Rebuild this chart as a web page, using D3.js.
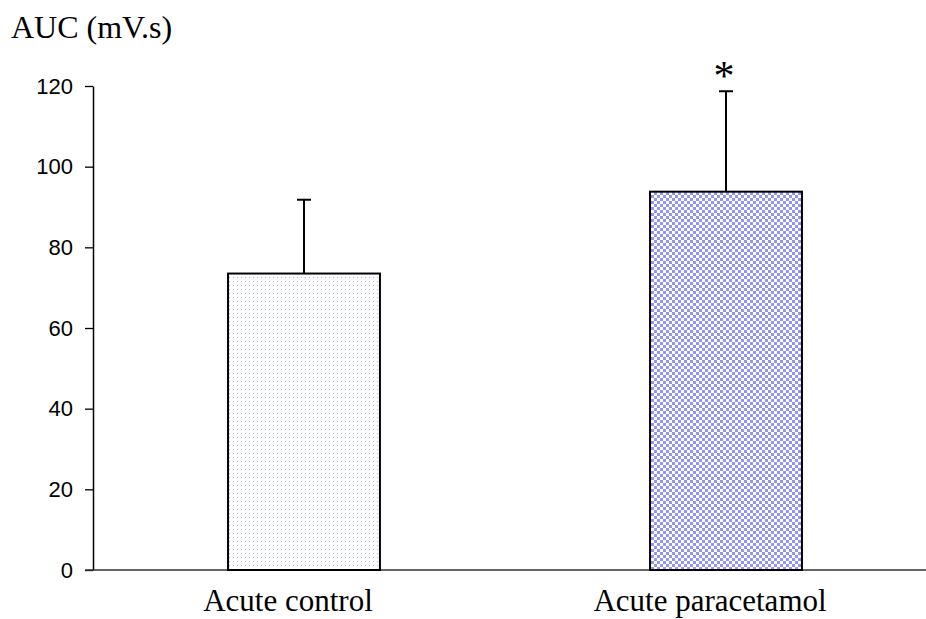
<!DOCTYPE html>
<html><head><meta charset="utf-8">
<script src="https://cdn.jsdelivr.net/npm/d3@7"></script>
<style>body{margin:0;background:#fff}svg{display:block}</style>
</head><body>
<script>
const categories = ["Acute control", "Acute paracetamol"];
const means = [73.5, 93.8];
const errors = [18.3, 24.9];
const significance = ["", "*"];
const yTicks = [0, 20, 40, 60, 80, 100, 120];
const yTitle = "AUC (mV.s)";

const W = 926, H = 619;
const svg = d3.select("body").append("svg").attr("width", W).attr("height", H);
const defs = svg.append("defs");

const pDots = defs.append("pattern").attr("id","dots").attr("patternUnits","userSpaceOnUse")
  .attr("width",4).attr("height",4);
pDots.append("rect").attr("width",4).attr("height",4).attr("fill","#fff");
pDots.append("rect").attr("x",1).attr("y",1).attr("width",1).attr("height",1).attr("fill","#b4b4fa");

const pChk = defs.append("pattern").attr("id","checker").attr("patternUnits","userSpaceOnUse")
  .attr("width",6).attr("height",6);
pChk.append("rect").attr("width",6).attr("height",6).attr("fill","#fff");
pChk.append("rect").attr("width",3).attr("height",3).attr("fill","#9494f6");
pChk.append("rect").attr("x",3).attr("y",3).attr("width",3).attr("height",3).attr("fill","#9494f6");
const fills = ["url(#dots)", "url(#checker)"];

const x0 = 93, yBottom = 570, yTop = 86;
const x = d3.scaleBand().domain(categories).range([x0, 937]).paddingInner(0.64).paddingOuter(0.32);
const y = d3.scaleLinear().domain([0, 120]).range([yBottom, yTop]);

// y axis
const yAxis = svg.append("g").attr("transform", `translate(${x0},0)`)
  .call(d3.axisLeft(y).tickValues(yTicks).tickSize(8).tickSizeOuter(0).tickPadding(12));
yAxis.select(".domain").attr("stroke","#000").attr("stroke-width",1.5);
yAxis.selectAll(".tick line").attr("stroke","#000").attr("stroke-width",1.3);
yAxis.selectAll(".tick text").attr("font-family","Liberation Sans, Arial, sans-serif").attr("font-size",22).attr("fill","#000");

// x axis line
svg.append("line").attr("x1", x0 - 8).attr("x2", W).attr("y1", y(0)).attr("y2", y(0))
  .attr("stroke","#333").attr("stroke-width",1.6);

// bars
const g = svg.append("g");
g.selectAll("rect.bar").data(categories).join("rect").attr("class","bar")
  .attr("x", d => x(d)).attr("width", x.bandwidth())
  .attr("y", (d,i) => y(means[i])).attr("height", (d,i) => y(0) - y(means[i]))
  .attr("fill", (d,i) => fills[i]).attr("stroke","#000").attr("stroke-width",2);

// error bars
const cx = d => x(d) + x.bandwidth()/2;
g.selectAll("line.err").data(categories).join("line").attr("class","err")
  .attr("x1", cx).attr("x2", cx)
  .attr("y1", (d,i) => y(means[i])).attr("y2", (d,i) => y(means[i] + errors[i]))
  .attr("stroke","#000").attr("stroke-width",2);
g.selectAll("line.cap").data(categories).join("line").attr("class","cap")
  .attr("x1", d => cx(d) - 7).attr("x2", d => cx(d) + 7)
  .attr("y1", (d,i) => y(means[i] + errors[i])).attr("y2", (d,i) => y(means[i] + errors[i]))
  .attr("stroke","#000").attr("stroke-width",2);

// significance
g.selectAll("text.sig").data(categories).join("text").attr("class","sig")
  .attr("x", d => cx(d) - 2).attr("y", (d,i) => y(means[i] + errors[i]) - 1)
  .attr("text-anchor","middle").attr("font-family","Liberation Serif, Times New Roman, serif")
  .attr("font-size",42).text((d,i) => significance[i]);

// category labels
g.selectAll("text.cat").data(categories).join("text").attr("class","cat")
  .attr("x", d => cx(d) - 16).attr("y", 611)
  .attr("text-anchor","middle").attr("font-family","Liberation Serif, Times New Roman, serif")
  .attr("font-size",31).attr("fill","#000").text(d => d);

// y title
svg.append("text").attr("x", 11).attr("y", 38)
  .attr("font-family","Liberation Serif, Times New Roman, serif").attr("font-size",32)
  .attr("fill","#000").text(yTitle);
</script>
</body></html>
